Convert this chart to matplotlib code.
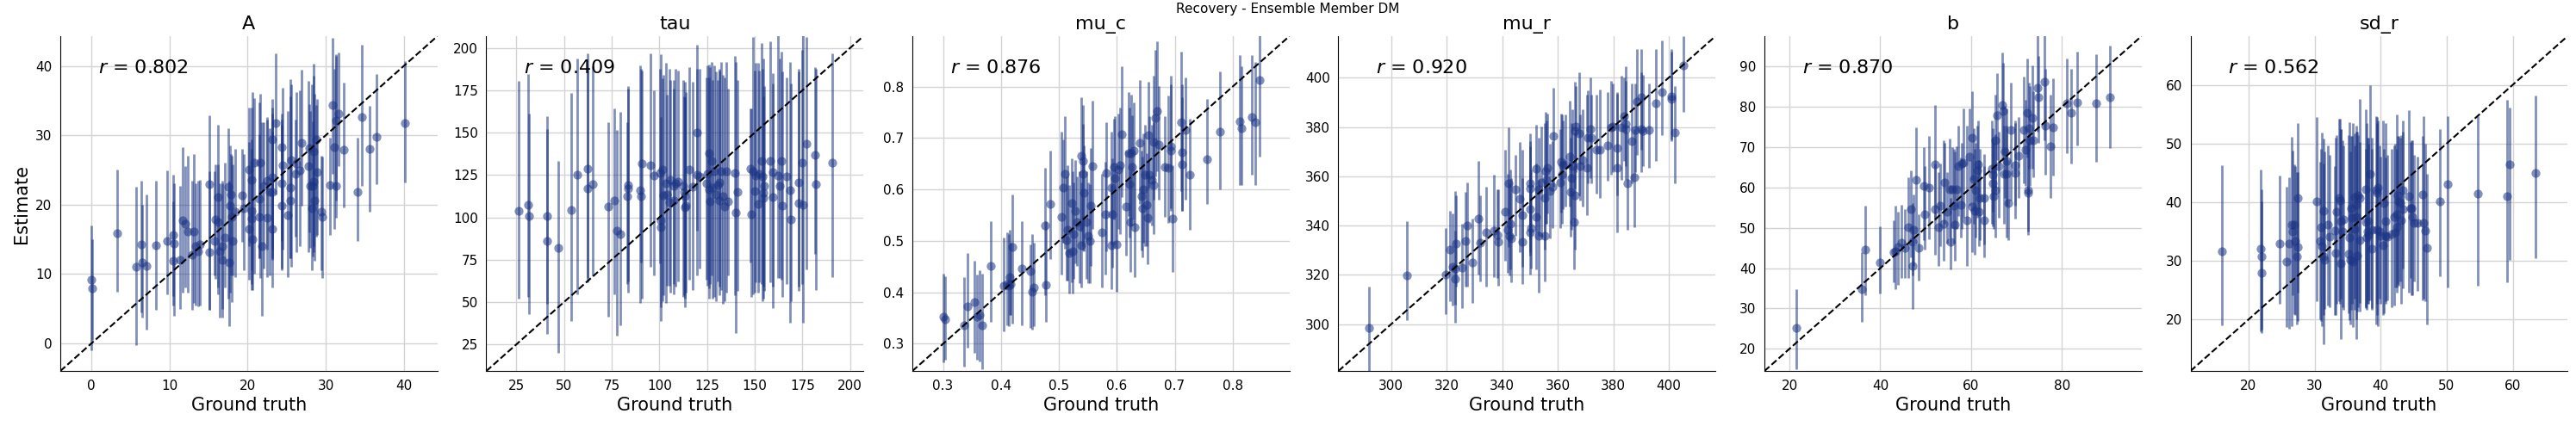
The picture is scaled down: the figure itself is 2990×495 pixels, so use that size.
import numpy as np
import matplotlib.pyplot as plt
from matplotlib.ticker import MultipleLocator

# parameter names and correlation labels shown in each panel
params = ["A", "tau", "mu_c", "mu_r", "b", "sd_r"]
r_labels = ["0.802", "0.409", "0.876", "0.920", "0.870", "0.562"]

# A
a_true = [0, 0.1, 3.3, 5.7, 6.4, 6.5, 7.0, 8.3, 9.7, 10.5, 10.6, 10.5, 11.3, 11.7, 12.0, 12.3, 12.9, 13.1, 13.3, 13.7,
          13.9, 15.1, 15.1, 15.8, 15.9, 16.2, 16.2, 16.4, 16.7, 16.8, 17.1, 17.5, 17.6, 17.7, 17.9, 18.0, 18.1, 18.4,
          19.3, 19.5, 20.2, 20.2, 20.5, 20.5, 20.5, 20.6, 20.8, 21.5, 21.5, 21.6, 21.8, 22.1, 22.5, 22.5, 22.8, 23.1,
          23.1, 23.2, 23.1, 23.6, 24.4, 24.4, 24.4, 24.5, 25.1, 25.5, 25.5, 25.6, 26.1, 26.3, 26.7, 26.9, 27.8, 27.9,
          28.0, 28.2, 28.3, 28.4, 28.5, 28.6, 28.8, 28.9, 29.5, 29.6, 30.5, 30.9, 31.1, 31.3, 31.3, 31.6, 32.3, 34.1,
          34.6, 35.6, 36.5, 40.1]
a_est = [9.2, 7.9, 15.9, 11.1, 14.3, 11.7, 11.2, 14.2, 14.8, 15.6, 14.4, 11.9, 12.0, 17.8, 17.3, 16.1, 12.8, 16.1,
         14.0, 13.3, 14.3, 23.0, 13.1, 14.8, 17.9, 17.5, 21.1, 13.3, 14.0, 12.0, 15.3, 22.6, 11.7, 19.9, 21.5, 18.3,
         14.8, 19.0, 21.3, 19.5, 25.1, 16.5, 18.0, 23.6, 19.1, 15.0, 26.0, 20.8, 18.3, 26.1, 14.0, 22.7, 18.1, 23.5,
         21.8, 29.4, 16.5, 24.0, 21.8, 31.8, 28.3, 23.1, 19.9, 25.7, 18.5, 20.6, 22.5, 26.4, 24.5, 25.9, 24.9, 28.9,
         25.6, 28.2, 22.7, 19.5, 22.7, 23.3, 27.7, 20.6, 29.4, 24.7, 19.0, 18.2, 22.8, 34.4, 28.3, 32.1, 22.7, 33.1,
         27.9, 21.9, 32.6, 28.0, 29.8, 31.8]
a_hi = [17.0, 15.0, 25.1, 22.6, 23.5, 20.0, 21.5, 23.5, 24.9, 24.3, 23.1, 20.5, 22.7, 28.3, 25.6, 27.1, 23.5, 27.3,
        23.1, 23.5, 23.6, 32.9, 24.8, 24.8, 25.8, 31.5, 25.8, 23.1, 23.5, 23.1, 26.0, 31.0, 23.5, 28.5, 27.3, 27.1,
        25.8, 28.1, 28.1, 27.3, 34.0, 29.0, 28.0, 34.0, 29.4, 36.3, 35.4, 34.8, 30.2, 36.0, 31.9, 31.9, 32.7, 32.3,
        31.0, 34.0, 33.1, 35.2, 30.5, 41.8, 33.1, 32.3, 31.5, 36.9, 33.5, 38.1, 35.6, 37.3, 32.3, 36.3, 36.5, 39.5,
        37.9, 34.5, 33.5, 37.3, 32.0, 38.6, 40.3, 36.0, 34.4, 35.2, 27.1, 26.9, 29.6, 44.0, 39.6, 41.7, 41.5, 41.9,
        37.6, 29.6, 43.1, 34.2, 38.9, 40.7]
a_lo = [-1.0, 0.5, 7.5, -0.2, 4.4, 3.7, 2.0, 4.8, 7.1, 5.4, 4.0, 6.8, 5.0, 7.3, 8.1, 7.3, 4.8, 5.8, 5.4, 5.3, 5.4,
        4.8, 4.8, 9.8, 9.3, 8.1, 7.1, 3.7, 5.0, 3.7, 8.1, 6.5, 2.5, 7.3, 9.8, 6.0, 9.8, 9.5, 14.6, 10.6, 14.0, 9.2,
        8.5, 7.7, 10.6, 7.7, 10.0, 12.3, 12.3, 9.4, 4.0, 10.8, 9.6, 13.5, 9.8, 12.3, 8.1, 13.5, 12.0, 21.5, 14.8,
        10.6, 10.8, 13.5, 9.6, 12.3, 12.3, 11.0, 15.4, 13.1, 14.0, 19.8, 13.1, 16.0, 13.8, 10.6, 12.5, 13.1, 14.0,
        11.9, 15.4, 15.6, 10.6, 9.4, 15.6, 24.4, 16.5, 20.6, 18.1, 25.6, 19.6, 14.8, 22.7, 19.0, 22.9, 23.2]

# tau
tau_true = [26.1, 31.0, 31.5, 41.0, 41.3, 46.9, 53.6, 57.1, 62.1, 62.1, 64.9, 73.2, 76.3, 77.6, 79.4, 83.0, 83.5,
            83.6, 89.8, 90.3, 91.0, 95.2, 97.1, 100.4, 100.8, 100.8, 101.7, 102.0, 103.4, 103.8, 105.3, 105.6, 107.3,
            107.6, 108.6, 109.9, 112.6, 112.9, 113.2, 113.6, 113.9, 115.6, 117.4, 119.9, 119.9, 121.2, 124.6, 125.2,
            126.0, 126.1, 126.4, 127.2, 127.7, 128.9, 129.5, 130.4, 131.3, 131.4, 132.5, 133.4, 134.3, 135.2, 136.0,
            139.6, 140.1, 141.0, 147.6, 148.1, 149.1, 150.2, 150.6, 151.6, 152.1, 153.6, 154.0, 154.5, 154.6, 155.1,
            158.1, 159.3, 159.6, 162.2, 162.9, 163.8, 164.4, 166.8, 168.4, 169.0, 173.2, 173.2, 174.7, 175.4, 176.9,
            181.5, 181.9, 190.5]
tau_est = [103.8, 107.2, 100.8, 86.0, 100.8, 81.8, 104.2, 125.0, 128.9, 117.1, 119.6, 106.4, 109.8, 92.3, 89.9,
           112.3, 119.1, 117.1, 116.1, 112.3, 131.8, 130.6, 124.7, 126.2, 98.3, 94.0, 128.4, 113.2, 120.0, 113.7,
           108.9, 122.0, 118.6, 109.8, 120.0, 121.3, 118.6, 115.2, 106.1, 112.3, 106.7, 128.1, 117.9, 150.1, 125.4,
           124.4, 120.0, 125.9, 137.8, 116.6, 109.4, 133.5, 117.4, 127.1, 113.5, 119.1, 120.8, 109.8, 127.1, 112.3,
           106.4, 127.1, 109.3, 126.2, 102.7, 115.2, 128.8, 101.6, 127.1, 115.7, 124.7, 107.8, 125.9, 133.5, 124.2,
           114.5, 111.5, 118.6, 133.5, 111.8, 126.7, 124.7, 118.6, 133.5, 106.7, 124.4, 116.1, 98.8, 120.8, 108.4,
           132.2, 107.6, 143.4, 136.9, 119.4, 132.2]
tau_hi = [180.7, 184.7, 161.5, 152.2, 159.8, 133.5, 173.4, 193.7, 197.1, 188.6, 189.1, 156.4, 164.4, 151.8, 162.4,
          156.4, 177.3, 175.9, 189.5, 187.8, 186.9, 197.1, 175.1, 187.8, 196.3, 159.0, 181.9, 184.4, 191.2, 172.5,
          187.8, 181.0, 181.0, 175.9, 187.8, 186.9, 181.0, 171.7, 180.2, 170.8, 174.2, 188.6, 180.2, 202.2, 187.8,
          187.8, 182.7, 189.5, 190.3, 182.7, 188.6, 192.0, 181.0, 189.5, 186.1, 181.0, 187.8, 186.9, 192.0, 184.4,
          182.7, 192.0, 175.9, 195.4, 192.0, 181.0, 164.1, 164.1, 206.4, 186.9, 191.2, 191.5, 186.9, 203.0, 187.8,
          171.7, 193.7, 177.6, 203.9, 185.2, 179.3, 207.3, 193.7, 198.0, 186.1, 182.7, 192.0, 179.3, 186.1, 187.8,
          198.8, 207.3, 206.4, 188.6, 187.8, 197.1]
tau_lo = [52.1, 53.0, 42.8, 31.1, 48.7, 19.9, 38.6, 54.7, 64.0, 61.5, 65.7, 41.1, 54.7, 30.1, 36.0, 60.6, 55.5, 62.3,
          49.6, 73.3, 52.1, 70.8, 65.7, 72.8, 47.0, 38.6, 50.4, 53.8, 49.6, 59.8, 59.8, 55.5, 54.7, 60.6, 59.1, 62.3,
          53.0, 53.8, 52.1, 47.0, 55.5, 63.2, 57.2, 92.0, 65.7, 69.9, 63.2, 59.8, 52.1, 58.1, 60.6, 65.7, 52.1, 53.0,
          50.4, 62.3, 53.8, 59.1, 57.2, 48.7, 50.4, 55.5, 65.7, 53.8, 31.8, 56.4, 73.3, 53.0, 54.7, 55.5, 61.5, 55.5,
          61.5, 60.6, 50.4, 59.1, 52.1, 56.4, 61.5, 46.2, 59.1, 64.0, 64.0, 63.2, 53.0, 60.6, 37.7, 50.4, 56.4, 59.1,
          60.6, 37.7, 69.1, 78.4, 57.2, 64.9]

# mu_c
muc_true = [0.300, 0.303, 0.337, 0.342, 0.354, 0.359, 0.363, 0.368, 0.382, 0.404, 0.410, 0.413, 0.415, 0.417, 0.419,
            0.436, 0.451, 0.454, 0.457, 0.476, 0.477, 0.485, 0.504, 0.507, 0.511, 0.513, 0.515, 0.518, 0.522, 0.523,
            0.525, 0.528, 0.531, 0.536, 0.538, 0.539, 0.541, 0.542, 0.543, 0.548, 0.551, 0.553, 0.555, 0.558, 0.575,
            0.580, 0.581, 0.591, 0.591, 0.592, 0.595, 0.597, 0.600, 0.602, 0.606, 0.608, 0.616, 0.620, 0.622, 0.624,
            0.625, 0.627, 0.630, 0.631, 0.640, 0.643, 0.644, 0.645, 0.649, 0.651, 0.653, 0.654, 0.656, 0.661, 0.663,
            0.664, 0.666, 0.669, 0.672, 0.683, 0.689, 0.693, 0.693, 0.697, 0.711, 0.712, 0.713, 0.719, 0.726, 0.756,
            0.778, 0.812, 0.816, 0.833, 0.839, 0.847]
muc_est = [0.353, 0.348, 0.336, 0.372, 0.381, 0.352, 0.356, 0.336, 0.452, 0.413, 0.416, 0.413, 0.429, 0.416, 0.489,
           0.446, 0.441, 0.401, 0.409, 0.530, 0.414, 0.572, 0.546, 0.604, 0.630, 0.502, 0.521, 0.476, 0.574, 0.480,
           0.513, 0.558, 0.536, 0.528, 0.665, 0.491, 0.656, 0.631, 0.594, 0.536, 0.510, 0.500, 0.569, 0.645, 0.517,
           0.551, 0.632, 0.603, 0.491, 0.552, 0.644, 0.622, 0.493, 0.639, 0.647, 0.707, 0.566, 0.670, 0.611, 0.536,
           0.671, 0.644, 0.675, 0.526, 0.691, 0.587, 0.563, 0.601, 0.628, 0.570, 0.545, 0.706, 0.628, 0.618, 0.692,
           0.609, 0.740, 0.752, 0.687, 0.643, 0.642, 0.684, 0.675, 0.544, 0.731, 0.672, 0.649, 0.715, 0.629, 0.659,
           0.713, 0.732, 0.719, 0.741, 0.730, 0.812]
muc_hi = [0.437, 0.432, 0.429, 0.476, 0.462, 0.434, 0.443, 0.437, 0.538, 0.507, 0.516, 0.513, 0.521, 0.496, 0.591,
          0.538, 0.493, 0.513, 0.496, 0.642, 0.538, 0.675, 0.712, 0.698, 0.742, 0.625, 0.647, 0.608, 0.661, 0.636,
          0.614, 0.658, 0.625, 0.636, 0.779, 0.614, 0.765, 0.728, 0.686, 0.636, 0.614, 0.611, 0.681, 0.773, 0.630,
          0.653, 0.731, 0.712, 0.608, 0.661, 0.737, 0.742, 0.636, 0.748, 0.759, 0.840, 0.675, 0.790, 0.759, 0.636,
          0.784, 0.745, 0.770, 0.636, 0.812, 0.675, 0.664, 0.709, 0.726, 0.670, 0.658, 0.810, 0.742, 0.726, 0.821,
          0.731, 0.871, 0.888, 0.801, 0.742, 0.782, 0.821, 0.804, 0.647, 0.868, 0.779, 0.804, 0.818, 0.737, 0.776,
          0.829, 0.862, 0.840, 0.862, 0.848, 0.905]
muc_lo = [0.264, 0.269, 0.255, 0.292, 0.283, 0.269, 0.266, 0.250, 0.342, 0.325, 0.336, 0.334, 0.356, 0.356, 0.339,
          0.336, 0.331, 0.328, 0.334, 0.395, 0.342, 0.465, 0.434, 0.496, 0.485, 0.423, 0.423, 0.398, 0.420, 0.398,
          0.426, 0.457, 0.451, 0.418, 0.518, 0.409, 0.490, 0.482, 0.479, 0.426, 0.418, 0.418, 0.451, 0.524, 0.409,
          0.434, 0.479, 0.493, 0.406, 0.448, 0.541, 0.493, 0.401, 0.524, 0.513, 0.586, 0.471, 0.549, 0.507, 0.440,
          0.530, 0.544, 0.541, 0.429, 0.572, 0.482, 0.468, 0.496, 0.490, 0.490, 0.454, 0.602, 0.535, 0.530, 0.580,
          0.513, 0.625, 0.636, 0.580, 0.546, 0.535, 0.563, 0.558, 0.440, 0.597, 0.558, 0.558, 0.580, 0.521, 0.572,
          0.600, 0.608, 0.608, 0.628, 0.608, 0.664]

# mu_r
mur_true = [292.1, 305.6, 319.6, 321.2, 322.2, 323.2, 323.2, 323.4, 325.5, 326.9, 327.4, 329.3, 331.5, 332.2, 334.2,
            337.0, 338.3, 338.6, 340.9, 342.1, 342.4, 342.5, 342.9, 343.3, 344.8, 346.3, 347.1, 347.1, 349.9, 349.9,
            349.9, 349.9, 350.4, 352.1, 352.3, 353.1, 353.3, 354.1, 355.2, 355.2, 355.6, 355.9, 356.1, 357.3, 358.0,
            358.5, 360.8, 361.1, 361.6, 361.8, 362.7, 364.2, 364.7, 365.0, 365.2, 366.0, 366.3, 366.3, 366.6, 367.8,
            368.0, 368.9, 370.4, 370.7, 371.8, 372.2, 373.9, 375.3, 378.0, 379.3, 379.8, 381.3, 381.5, 382.9, 383.9,
            384.4, 384.6, 385.0, 386.7, 387.6, 387.8, 388.4, 390.1, 390.2, 390.7, 392.9, 395.5, 397.4, 400.8, 400.8,
            402.1, 405.4]
mur_est = [298.5, 319.8, 320.3, 330.2, 323.3, 318.4, 322.7, 332.6, 322.9, 333.7, 339.9, 325.0, 343.0, 333.1, 337.2,
           338.0, 336.3, 333.4, 345.6, 338.4, 357.0, 336.0, 340.7, 334.9, 354.7, 350.9, 344.2, 333.4, 357.0, 355.2,
           346.5, 337.2, 338.9, 343.6, 363.0, 354.7, 336.0, 357.6, 335.8, 351.2, 362.2, 358.7, 363.4, 354.1, 355.6,
           376.5, 357.6, 365.7, 360.5, 364.5, 364.9, 368.0, 353.7, 359.3, 364.0, 341.6, 352.3, 378.5, 380.2, 377.3,
           364.2, 366.5, 363.4, 375.8, 379.3, 375.8, 370.9, 370.9, 372.4, 379.7, 380.2, 363.4, 371.3, 379.7, 384.3,
           381.2, 379.1, 357.2, 374.4, 359.5, 378.7, 390.3, 392.1, 379.1, 378.5, 378.7, 389.5, 394.2, 392.4, 391.3,
           377.7, 404.9]
mur_hi = [315.1, 341.9, 339.0, 345.9, 344.8, 337.8, 354.1, 352.3, 340.7, 353.5, 357.6, 343.0, 366.3, 352.3, 355.8,
          360.7, 354.7, 354.7, 370.9, 361.0, 379.7, 357.0, 362.8, 359.3, 368.6, 373.8, 370.9, 359.3, 377.3, 374.4,
          372.1, 361.6, 362.8, 365.1, 380.8, 375.6, 358.7, 380.2, 358.1, 381.4, 386.0, 382.6, 385.5, 373.3, 374.4,
          395.9, 379.1, 385.5, 384.9, 382.6, 384.9, 390.7, 375.6, 381.4, 387.2, 364.0, 377.9, 398.3, 396.5, 402.3,
          384.9, 387.2, 393.0, 394.8, 400.0, 393.0, 393.0, 395.3, 394.2, 398.8, 397.7, 394.2, 393.6, 400.6, 400.0,
          404.7, 398.8, 377.9, 397.7, 379.1, 397.7, 411.6, 411.6, 402.3, 401.2, 397.7, 411.6, 415.1, 411.6, 410.5,
          396.5, 416.9]
mur_lo = [281.0, 301.7, 304.1, 309.3, 307.6, 300.6, 308.1, 315.1, 306.4, 315.1, 315.1, 308.7, 320.3, 317.4, 315.1,
          319.2, 318.6, 315.7, 325.6, 320.9, 331.4, 319.8, 322.1, 316.9, 336.0, 329.1, 323.3, 316.3, 334.3, 329.1,
          327.9, 320.3, 322.7, 322.1, 337.2, 336.0, 312.8, 335.5, 317.4, 330.2, 340.7, 340.7, 344.8, 334.9, 339.0,
          355.8, 339.0, 345.3, 340.7, 346.5, 347.7, 347.7, 335.5, 338.4, 343.0, 322.1, 330.2, 355.2, 361.6, 352.3,
          350.0, 347.7, 344.2, 357.0, 359.3, 357.0, 352.9, 351.2, 358.1, 360.5, 361.6, 337.2, 352.3, 358.7, 366.3,
          364.0, 358.7, 338.4, 357.0, 339.5, 361.6, 368.6, 370.9, 361.6, 364.0, 363.4, 366.3, 376.7, 375.0, 374.4,
          357.0, 386.0]

# b
b_true = [21.5, 35.9, 36.6, 40.0, 43.0, 43.4, 43.9, 44.6, 45.5, 46.1, 46.8, 47.1, 47.2, 47.4, 47.9, 48.5, 49.5, 49.8,
          50.8, 52.0, 52.0, 52.8, 53.1, 53.9, 54.1, 54.8, 55.2, 55.4, 55.9, 56.3, 56.5, 56.7, 57.2, 57.7, 58.0, 58.4,
          59.0, 59.7, 60.2, 60.2, 60.5, 60.7, 60.9, 61.3, 61.6, 61.8, 62.0, 62.8, 62.9, 64.5, 64.7, 64.8, 64.9, 65.3,
          65.4, 65.8, 66.1, 66.8, 67.0, 67.2, 67.5, 67.7, 67.8, 68.1, 68.7, 69.7, 69.7, 70.5, 71.5, 71.9, 72.4, 72.5,
          72.5, 72.7, 73.0, 73.4, 73.7, 74.6, 74.8, 76.1, 76.3, 77.5, 78.0, 81.1, 82.1, 83.3, 87.6, 90.6]
b_est = [25.3, 34.9, 44.7, 41.5, 44.0, 44.2, 45.3, 46.3, 45.1, 50.1, 54.7, 40.5, 46.5, 49.5, 61.8, 45.1, 60.5, 53.4,
         60.0, 65.8, 54.7, 50.2, 55.5, 51.1, 61.2, 54.0, 59.6, 46.6, 59.6, 55.4, 50.8, 59.6, 65.2, 55.7, 66.0, 66.2,
         51.8, 67.6, 72.4, 55.2, 62.1, 54.3, 59.4, 64.3, 65.8, 54.1, 57.5, 57.5, 51.8, 64.6, 61.1, 63.2, 57.9, 71.7,
         59.3, 77.8, 65.3, 80.5, 79.0, 63.3, 68.9, 63.3, 66.6, 56.2, 74.2, 65.5, 63.6, 67.8, 74.2, 69.4, 78.6, 59.4,
         58.6, 74.7, 71.6, 77.3, 71.6, 84.7, 82.4, 86.2, 75.3, 70.2, 74.9, 80.8, 78.5, 81.0, 80.8, 82.4]
b_hi = [34.8, 44.0, 55.4, 50.4, 51.8, 55.4, 54.0, 55.7, 54.7, 62.5, 64.3, 49.7, 56.1, 58.2, 74.9, 53.3, 70.0, 65.3,
        72.8, 80.4, 66.0, 63.9, 66.0, 71.7, 71.0, 63.9, 72.1, 57.5, 70.0, 69.6, 68.9, 70.3, 75.3, 67.5, 71.0, 79.6,
        75.3, 79.6, 83.8, 66.8, 74.6, 69.6, 71.0, 75.3, 76.7, 66.8, 69.6, 68.2, 65.3, 76.7, 74.6, 72.4, 71.0, 83.1,
        73.2, 88.4, 73.9, 93.4, 90.9, 75.3, 80.3, 75.3, 79.6, 66.8, 86.0, 76.0, 76.7, 77.4, 87.4, 81.7, 92.0, 72.4,
        71.0, 86.0, 85.2, 90.2, 83.8, 97.7, 92.7, 97.7, 89.5, 83.1, 87.0, 92.0, 89.5, 93.6, 93.1, 95.1]
b_lo = [14.9, 26.6, 33.4, 33.7, 36.6, 34.8, 35.8, 37.6, 37.6, 37.6, 42.6, 29.8, 38.3, 40.5, 46.1, 36.9, 46.9, 44.7,
        47.2, 51.8, 43.3, 40.5, 45.4, 41.9, 51.1, 46.1, 47.6, 39.8, 50.0, 46.1, 41.9, 49.7, 52.9, 47.6, 49.7, 52.5,
        40.5, 55.4, 61.8, 44.0, 51.1, 43.3, 47.6, 52.5, 54.7, 45.4, 46.9, 45.8, 42.6, 51.1, 50.4, 54.0, 49.7, 58.9,
        47.6, 66.8, 52.5, 66.8, 68.2, 51.1, 57.5, 47.6, 55.4, 46.9, 56.8, 55.4, 52.2, 57.5, 61.1, 60.4, 67.5, 49.0,
        48.3, 64.6, 60.4, 64.6, 62.5, 73.9, 71.0, 71.7, 63.2, 57.5, 62.9, 68.5, 66.0, 70.5, 66.4, 69.7]

# sd_r
sdr_true = [16.0, 21.8, 22.0, 22.0, 24.7, 25.7, 26.1, 26.5, 26.7, 26.9, 27.0, 27.3, 27.4, 27.4, 30.3, 30.8, 31.0,
            31.1, 31.3, 31.4, 31.5, 32.0, 32.3, 33.0, 33.2, 33.3, 33.7, 33.9, 34.0, 34.0, 34.2, 34.4, 35.1, 35.3,
            35.4, 35.5, 35.6, 35.8, 36.0, 36.0, 36.3, 36.3, 36.5, 36.6, 36.8, 36.9, 37.7, 37.8, 37.9, 38.0, 38.1,
            38.2, 38.4, 38.6, 38.7, 39.3, 39.4, 39.5, 39.6, 39.8, 40.0, 40.4, 40.5, 40.7, 40.8, 41.0, 41.6, 42.1,
            42.2, 42.4, 42.5, 42.6, 42.7, 43.0, 43.1, 43.3, 43.3, 44.3, 44.5, 44.7, 44.8, 45.0, 45.6, 46.4, 46.5,
            46.7, 47.0, 49.0, 50.1, 54.7, 59.1, 59.5, 63.5]
sdr_est = [31.6, 32.0, 30.8, 27.9, 33.0, 29.8, 32.9, 36.2, 35.0, 36.1, 33.4, 30.7, 32.3, 40.7, 40.1, 33.4, 35.7,
           32.5, 38.5, 30.8, 30.2, 36.2, 34.1, 35.1, 31.4, 38.3, 40.7, 40.3, 29.5, 36.8, 35.0, 37.1, 31.2, 33.9,
           30.2, 38.9, 37.3, 29.9, 40.8, 35.4, 39.5, 37.5, 30.9, 41.2, 33.5, 40.7, 36.6, 42.2, 34.0, 35.0, 36.8,
           34.4, 44.9, 35.3, 32.0, 42.0, 35.3, 41.6, 42.5, 35.0, 34.3, 32.6, 39.9, 36.7, 34.3, 34.1, 34.6, 37.5,
           34.8, 35.8, 37.9, 41.1, 40.2, 39.9, 36.9, 42.0, 38.8, 41.0, 39.0, 38.9, 37.5, 36.4, 36.4, 41.3, 36.4,
           35.2, 32.2, 40.2, 43.0, 41.4, 41.0, 46.5, 45.0]
sdr_hi = [46.3, 45.6, 42.2, 40.2, 44.6, 42.7, 44.2, 51.1, 48.8, 46.4, 46.1, 45.1, 53.5, 45.1, 54.5, 46.9, 49.1, 51.9,
          50.8, 46.6, 48.6, 49.6, 48.1, 46.1, 51.0, 51.5, 54.2, 54.2, 52.5, 52.5, 50.5, 49.6, 51.5, 53.7, 48.6, 51.3,
          51.3, 53.5, 49.6, 51.8, 52.0, 53.0, 52.0, 51.5, 57.6, 50.3, 55.9, 49.1, 53.5, 51.0, 50.0, 51.0, 59.9, 49.1,
          51.0, 54.7, 54.5, 53.5, 54.0, 49.6, 47.8, 54.0, 49.1, 53.5, 47.6, 48.1, 49.1, 49.6, 50.0, 49.1, 55.0, 51.3,
          51.3, 51.0, 51.5, 54.0, 52.0, 55.7, 50.3, 50.5, 50.5, 48.1, 47.8, 51.3, 54.7, 50.0, 44.9, 52.5, 54.7, 54.7,
          57.4, 56.2, 58.2]
sdr_lo = [19.0, 17.9, 17.7, 18.2, 22.7, 18.7, 18.4, 18.9, 24.2, 20.9, 20.7, 19.2, 19.7, 24.6, 23.1, 20.1, 19.7, 18.9,
          20.7, 15.7, 21.8, 22.4, 22.1, 20.7, 20.7, 22.6, 23.1, 22.6, 16.7, 23.6, 22.1, 21.6, 21.1, 19.9, 19.2, 21.6,
          22.6, 18.7, 23.6, 21.6, 20.1, 16.7, 21.3, 22.1, 21.3, 22.8, 22.1, 21.9, 21.6, 22.6, 22.6, 23.3, 23.3, 21.9,
          21.6, 19.2, 20.7, 22.6, 18.9, 23.6, 22.6, 20.7, 21.1, 22.6, 23.1, 23.3, 22.1, 22.4, 25.5, 24.6, 25.5, 26.0,
          25.8, 26.5, 22.6, 25.3, 28.7, 24.6, 27.0, 24.1, 24.1, 26.5, 24.8, 23.3, 23.6, 23.1, 19.2, 27.4, 25.5, 25.8,
          26.3, 30.2, 30.4]

panels = [
    (a_true, a_est, a_lo, a_hi),
    (tau_true, tau_est, tau_lo, tau_hi),
    (muc_true, muc_est, muc_lo, muc_hi),
    (mur_true, mur_est, mur_lo, mur_hi),
    (b_true, b_est, b_lo, b_hi),
    (sdr_true, sdr_est, sdr_lo, sdr_hi),
]

# shared x/y limits for each panel and tick spacing (x, y)
limits = [(-4.0, 44.3), (9.2, 207.0), (0.247, 0.898), (281.0, 416.8), (14.5, 97.5), (11.2, 68.3)]
steps = [(10, 10), (25, 25), (0.1, 0.1), (20, 20), (20, 10), (10, 10)]

color = "#1a3384"

fig, axes = plt.subplots(1, 6, figsize=(29.9, 4.95), dpi=100)
fig.subplots_adjust(left=0.0234, right=0.9967, bottom=0.129, top=0.915, wspace=0.13)

for ax, name, r, (gt, est, lo, hi), lim, st in zip(axes, params, r_labels, panels, limits, steps):
    gt = np.asarray(gt)
    ax.vlines(gt, lo, hi, color=color, alpha=0.55, lw=2, zorder=2)
    ax.scatter(gt, est, s=55, color=color, alpha=0.55, linewidths=0, zorder=3)
    ax.plot(lim, lim, "k--", lw=1.5, zorder=4)
    ax.set_xlim(lim)
    ax.set_ylim(lim)
    ax.xaxis.set_major_locator(MultipleLocator(st[0]))
    ax.yaxis.set_major_locator(MultipleLocator(st[1]))
    ax.grid(True, color="#d3d3d3", lw=1)
    ax.set_axisbelow(True)
    ax.spines["top"].set_visible(False)
    ax.spines["right"].set_visible(False)
    ax.tick_params(labelsize=11, length=0, pad=7)
    ax.set_title(name, fontsize=16)
    ax.set_xlabel("Ground truth", fontsize=15)
    ax.text(0.1, 0.905, f"$r$ = {r}", transform=ax.transAxes, fontsize=16, va="center", ha="left")

axes[0].set_ylabel("Estimate", fontsize=15)
fig.suptitle("Recovery - Ensemble Member DM", fontsize=11, y=0.993)

fig.savefig("out.png", dpi=100)
